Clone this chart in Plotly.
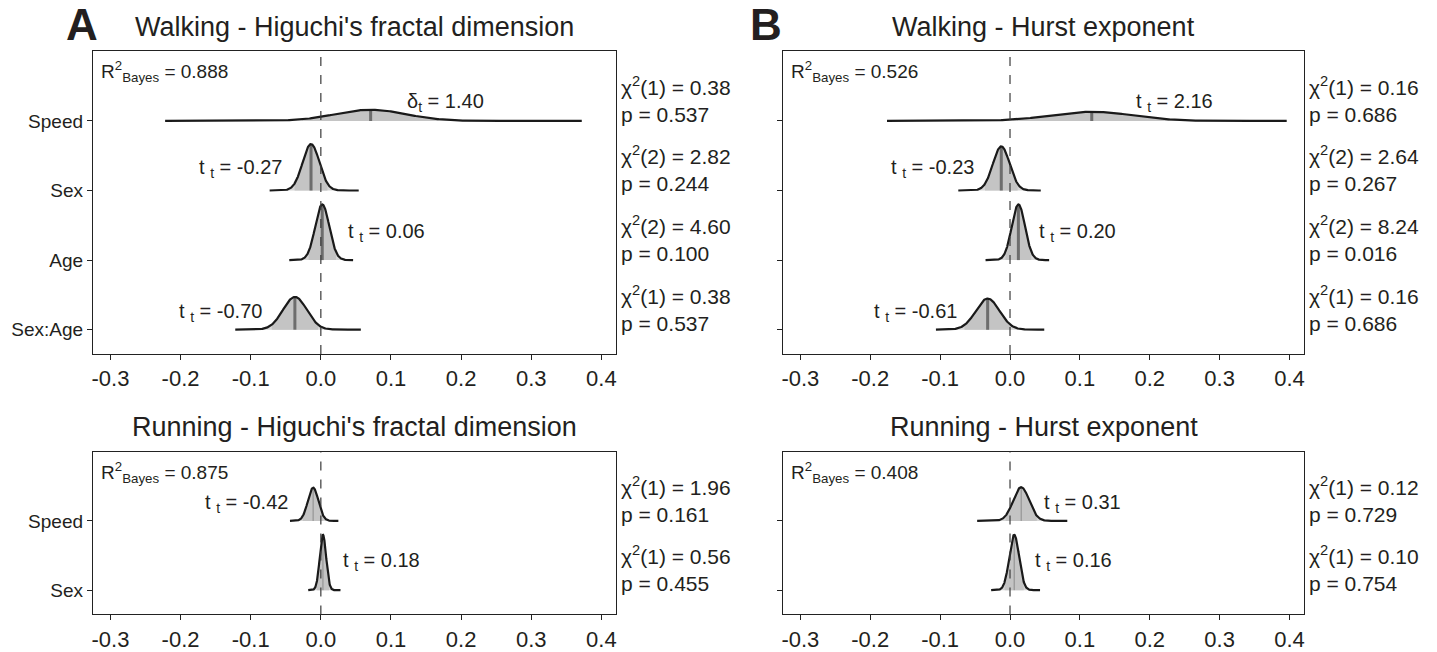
import numpy as np
import plotly.graph_objects as go

# ---------------- data ----------------
walk_hfd_terms = ["Speed", "Sex", "Age", "Sex:Age"]
walk_hfd_median = [0.071, -0.014, 0.002, -0.037]
walk_hfd_sd = [0.050, 0.012, 0.010, 0.017]
walk_hfd_lo = [-0.222, -0.073, -0.045, -0.122]
walk_hfd_hi = [0.372, 0.054, 0.046, 0.057]
walk_hfd_stat = ["δ", "t", "t", "t"]
walk_hfd_statval = [1.40, -0.27, 0.06, -0.70]
walk_hfd_df = [1, 2, 2, 1]
walk_hfd_chi = [0.38, 2.82, 4.60, 0.38]
walk_hfd_p = [0.537, 0.244, 0.100, 0.537]
walk_hfd_r2 = 0.888

walk_hur_terms = ["Speed", "Sex", "Age", "Sex:Age"]
walk_hur_median = [0.117, -0.0125, 0.012, -0.032]
walk_hur_sd = [0.058, 0.012, 0.0095, 0.017]
walk_hur_lo = [-0.176, -0.074, -0.035, -0.106]
walk_hur_hi = [0.396, 0.044, 0.056, 0.049]
walk_hur_stat = ["t", "t", "t", "t"]
walk_hur_statval = [2.16, -0.23, 0.20, -0.61]
walk_hur_df = [1, 2, 2, 1]
walk_hur_chi = [0.16, 2.64, 8.24, 0.16]
walk_hur_p = [0.686, 0.267, 0.016, 0.686]
walk_hur_r2 = 0.526

run_hfd_terms = ["Speed", "Sex"]
run_hfd_median = [-0.011, 0.003]
run_hfd_sd = [0.0075, 0.0045]
run_hfd_lo = [-0.044, -0.018]
run_hfd_hi = [0.025, 0.028]
run_hfd_stat = ["t", "t"]
run_hfd_statval = [-0.42, 0.18]
run_hfd_df = [1, 1]
run_hfd_chi = [1.96, 0.56]
run_hfd_p = [0.161, 0.455]
run_hfd_r2 = 0.875

run_hur_terms = ["Speed", "Sex"]
run_hur_median = [0.016, 0.006]
run_hur_sd = [0.0115, 0.007]
run_hur_lo = [-0.047, -0.027]
run_hur_hi = [0.082, 0.043]
run_hur_stat = ["t", "t"]
run_hur_statval = [0.31, 0.16]
run_hur_df = [1, 1]
run_hur_chi = [0.12, 0.10]
run_hur_p = [0.729, 0.754]
run_hur_r2 = 0.408

x_ticks = [-0.3, -0.2, -0.1, 0.0, 0.1, 0.2, 0.3, 0.4]
x_ticktext = ["-0.3", "-0.2", "-0.1", "0.0", "0.1", "0.2", "0.3", "0.4"]

# ---------------- layout helpers ----------------
W, H = 1437, 652
FONT = "Liberation Sans, Arial, Helvetica, sans-serif"
TXT = "#231f20"

def px_x(p):
    return p / W

def px_y(p):
    return 1 - p / H

panels = [
    dict(title="Walking - Higuchi's fractal dimension", box=(92, 616, 52, 359),
         terms=walk_hfd_terms, med=walk_hfd_median, sd=walk_hfd_sd, lo=walk_hfd_lo, hi=walk_hfd_hi,
         stat=walk_hfd_stat, sval=walk_hfd_statval, df=walk_hfd_df, chi=walk_hfd_chi, p=walk_hfd_p,
         r2=walk_hfd_r2, showlab=True, medw=3, medc="#6d6d6d",
         labx=[0.120, -0.053, 0.036, -0.081], labdy=[0.27, 0.32, 0.39, 0.24]),
    dict(title="Walking - Hurst exponent", box=(783, 1305, 52, 359),
         terms=walk_hur_terms, med=walk_hur_median, sd=walk_hur_sd, lo=walk_hur_lo, hi=walk_hur_hi,
         stat=walk_hur_stat, sval=walk_hur_statval, df=walk_hur_df, chi=walk_hur_chi, p=walk_hur_p,
         r2=walk_hur_r2, showlab=False, medw=3, medc="#6d6d6d",
         labx=[0.177, -0.048, 0.038, -0.073], labdy=[0.27, 0.32, 0.39, 0.24]),
    dict(title="Running - Higuchi's fractal dimension", box=(92, 616, 458, 623),
         terms=run_hfd_terms, med=run_hfd_median, sd=run_hfd_sd, lo=run_hfd_lo, hi=run_hfd_hi,
         stat=run_hfd_stat, sval=run_hfd_statval, df=run_hfd_df, chi=run_hfd_chi, p=run_hfd_p,
         r2=run_hfd_r2, showlab=True, medw=1, medc="#8c8c8c",
         labx=[-0.044, 0.029], labdy=[0.25, 0.41]),
    dict(title="Running - Hurst exponent", box=(783, 1305, 458, 623),
         terms=run_hur_terms, med=run_hur_median, sd=run_hur_sd, lo=run_hur_lo, hi=run_hur_hi,
         stat=run_hur_stat, sval=run_hur_statval, df=run_hur_df, chi=run_hur_chi, p=run_hur_p,
         r2=run_hur_r2, showlab=False, medw=1, medc="#8c8c8c",
         labx=[0.046, 0.033], labdy=[0.25, 0.41]),
]

SCALE = 0.8
XR = [-0.325, 0.421]

fig = go.Figure()
annotations = []
shapes = []
layout = {}

for i, pn in enumerate(panels):
    k = "" if i == 0 else str(i + 1)
    xa, ya = "x" + k, "y" + k
    n = len(pn["terms"])
    ypos = list(range(n, 0, -1))  # first term on top
    peaks = [1.0 / (s * np.sqrt(2 * np.pi)) for s in pn["sd"]]
    pmax = max(peaks)
    for j in range(n):
        m, s, lo, hi, base = pn["med"][j], pn["sd"][j], pn["lo"][j], pn["hi"][j], ypos[j]
        xs = np.linspace(lo, hi, 400)
        dens = np.exp(-0.5 * ((xs - m) / s) ** 2) / (s * np.sqrt(2 * np.pi))
        ys = base + SCALE * dens / pmax
        fig.add_trace(go.Scatter(x=np.r_[xs, xs[::-1]], y=np.r_[ys, np.full(len(xs), base)],
                                 fill="toself", fillcolor="#d6d6d6", line=dict(width=0),
                                 mode="lines", hoverinfo="skip", showlegend=False, xaxis=xa, yaxis=ya))
        msk = (xs >= m - 1.96 * s) & (xs <= m + 1.96 * s)
        xi, yi = xs[msk], ys[msk]
        fig.add_trace(go.Scatter(x=np.r_[xi, xi[::-1]], y=np.r_[yi, np.full(len(xi), base)],
                                 fill="toself", fillcolor="#c4c4c4", line=dict(width=0),
                                 mode="lines", hoverinfo="skip", showlegend=False, xaxis=xa, yaxis=ya))
        hmed = base + SCALE * (1.0 / (s * np.sqrt(2 * np.pi))) / pmax
        fig.add_trace(go.Scatter(x=[m, m], y=[base, hmed], mode="lines",
                                 line=dict(color=pn["medc"], width=pn["medw"]),
                                 hoverinfo="skip", showlegend=False, xaxis=xa, yaxis=ya))
        fig.add_trace(go.Scatter(x=xs, y=ys, mode="lines", line=dict(color="#1a1a1a", width=2.2),
                                 hoverinfo="skip", showlegend=False, xaxis=xa, yaxis=ya))
        sym = pn["stat"][j]
        if sym == "t":
            lab = f"t <sub>t</sub> = {pn['sval'][j]:.2f}"
        else:
            lab = f"{sym}<sub>t</sub> = {pn['sval'][j]:.2f}"
        anchor = "right" if m < 0 else "left"
        annotations.append(dict(x=pn["labx"][j], y=base + pn["labdy"][j], xref=xa, yref=ya,
                                text=lab, showarrow=False, xanchor=anchor, yanchor="middle",
                                font=dict(family=FONT, size=20, color=TXT)))
        annotations.append(dict(x=1, y=base + 0.31, xref=xa + " domain", yref=ya,
                                text=f"χ<sup>2</sup>({pn['df'][j]}) = {pn['chi'][j]:.2f}<br>p = {pn['p'][j]:.3f}",
                                showarrow=False, xanchor="left", yanchor="middle", align="left",
                                xshift=3, font=dict(family=FONT, size=21, color=TXT)))
    annotations.append(dict(x=0.012, y=1, xref=xa + " domain", yref=ya + " domain",
                            text=f"R<sup>2</sup><sub>Bayes</sub> = {pn['r2']:.3f}",
                            showarrow=False, xanchor="left", yanchor="top", yshift=-5,
                            font=dict(family=FONT, size=19, color=TXT)))
    shapes.append(dict(type="line", xref=xa, yref=ya + " domain", x0=0, x1=0, y0=0, y1=1,
                       line=dict(color="#3a3a3a", width=1.2, dash="dash"), layer="above"))
    l, r, t, b = pn["box"]
    layout["xaxis" + k] = dict(domain=[px_x(l), px_x(r)], range=XR, anchor=ya,
                               tickvals=x_ticks, ticktext=x_ticktext, ticks="outside", ticklen=5,
                               tickcolor="#222", tickwidth=1, showline=True, mirror=True,
                               linecolor="#222", linewidth=1, showgrid=False, zeroline=False,
                               tickfont=dict(family=FONT, size=22, color=TXT), fixedrange=True)
    layout["yaxis" + k] = dict(domain=[px_y(b), px_y(t)], range=[0.65, n + 1.0], anchor=xa,
                               tickvals=ypos, ticktext=pn["terms"] if pn["showlab"] else [""] * n,
                               ticks="outside", ticklen=5, tickcolor="#222", tickwidth=1,
                               showline=True, mirror=True, linecolor="#222", linewidth=1,
                               showgrid=False, zeroline=False,
                               tickfont=dict(family=FONT, size=19, color=TXT), fixedrange=True)
    annotations.append(dict(x=px_x((l + r) / 2), y=px_y(t - 25), xref="paper", yref="paper",
                            text=pn["title"], showarrow=False, xanchor="center", yanchor="middle",
                            font=dict(family=FONT, size=27, color=TXT)))

annotations.append(dict(x=px_x(81), y=px_y(25), xref="paper", yref="paper", text="<b>A</b>",
                        showarrow=False, xanchor="center", yanchor="middle",
                        font=dict(family=FONT, size=44, color=TXT)))
annotations.append(dict(x=px_x(766), y=px_y(25), xref="paper", yref="paper", text="<b>B</b>",
                        showarrow=False, xanchor="center", yanchor="middle",
                        font=dict(family=FONT, size=44, color=TXT)))

fig.update_layout(width=W, height=H, margin=dict(l=0, r=0, t=0, b=0),
                  paper_bgcolor="white", plot_bgcolor="white", hovermode=False,
                  annotations=annotations, shapes=shapes, showlegend=False, **layout)

# remove the default page margin so the figure sits at the window's top-left corner
fig.write_html("out.html", config={"displayModeBar": False, "staticPlot": True},
               post_script="document.body.style.margin='0';document.body.style.overflow='hidden';")
